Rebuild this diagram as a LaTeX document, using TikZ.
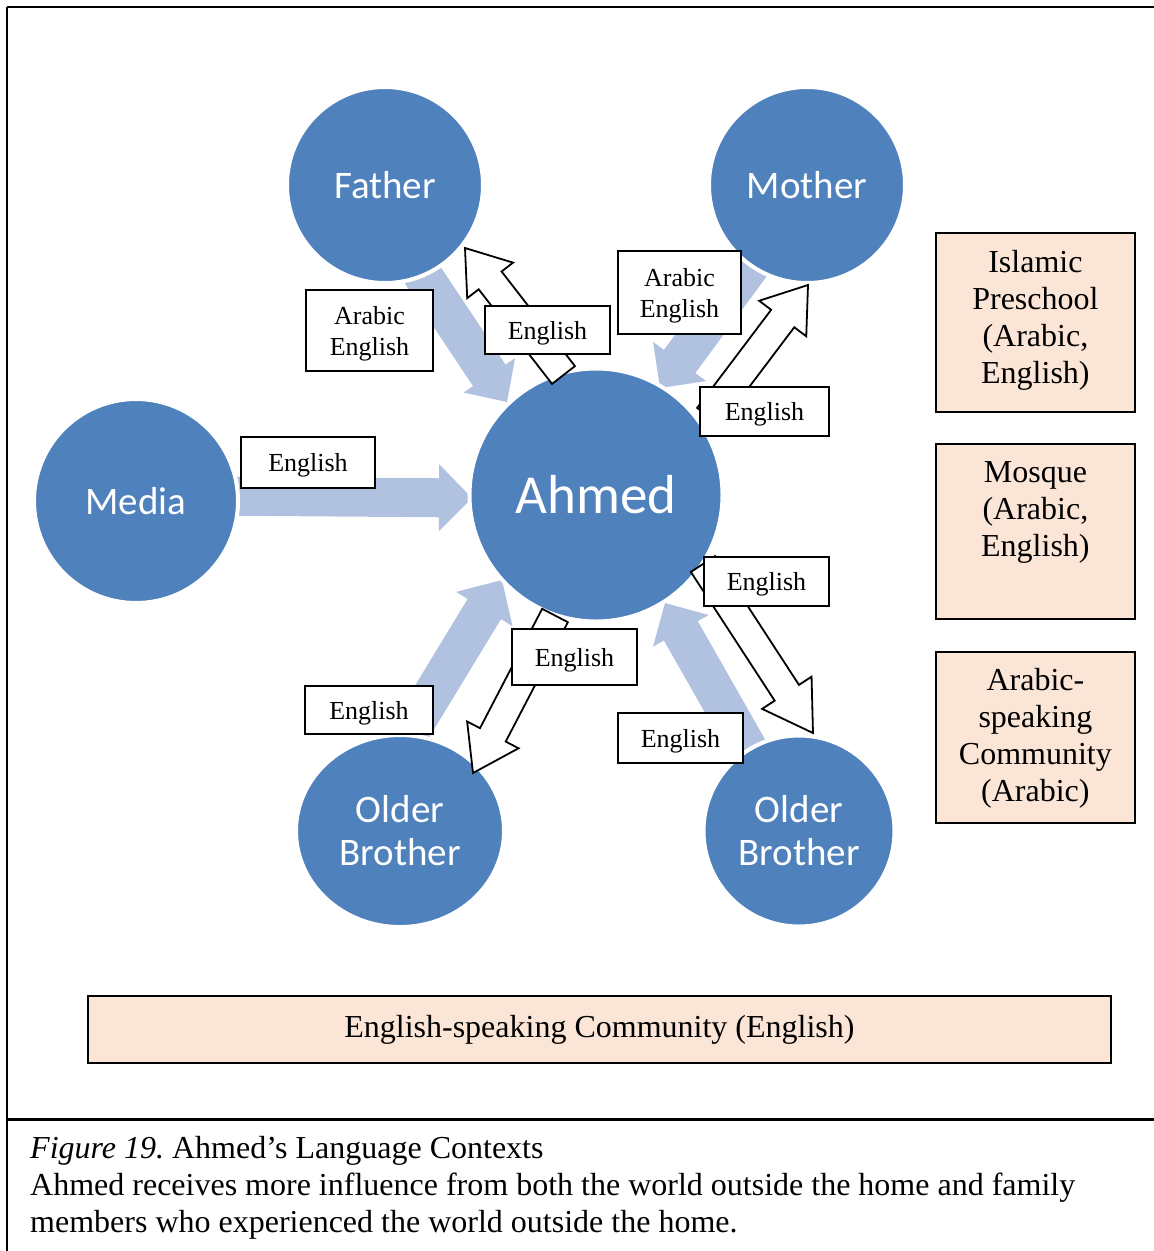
\documentclass[tikz,border=0pt]{standalone}
\usepackage{fontspec}
\setmainfont{Liberation Serif}
\newfontfamily\circlefont{Carlito}
\usetikzlibrary{calc,shapes.geometric}
\definecolor{nodeblue}{HTML}{4F81BD}
\definecolor{flowblue}{HTML}{B0C2DF}
\definecolor{peach}{HTML}{FBE5D6}
\frenchspacing

% block arrow: #1 style, #2 tail, #3 tip, #4 shaft half-width, #5 head half-width, #6 head length
\newcommand\blockarrow[6]{%
  \coordinate (ba-base) at ($(#3)!#6!(#2)$);
  \path[#1] ($(#2)!#4!90:(#3)$) -- ($(ba-base)!#4!90:(#3)$) -- ($(ba-base)!#5!90:(#3)$)
    -- (#3) -- ($(ba-base)!#5!-90:(#3)$) -- ($(ba-base)!#4!-90:(#3)$)
    -- ($(#2)!#4!-90:(#3)$) -- cycle;}

\tikzset{
  person/.style={circle, fill=nodeblue, draw=white, line width=4pt, inner sep=0pt,
    text=white, align=center, font=\circlefont\fontsize{39}{43}\selectfont},
  tag/.style={draw=black, fill=white, line width=1.8pt, inner sep=0pt, align=center,
    text depth=0pt, font=\fontsize{26}{31}\selectfont},
  setting/.style={draw=black, fill=peach, line width=1.8pt, inner sep=0pt},
  settingtext/.style={anchor=north, inner sep=0pt, align=center,
    font=\fontsize{32}{37}\selectfont},
  flow/.style={fill=flowblue},
  speech/.style={draw=black, fill=white, line width=1.8pt, line join=miter},
}

\begin{document}
\begin{tikzpicture}[x=1pt, y=-1pt]
\useasboundingbox[fill=white] (0,0) rectangle (1154,1251);

% frame
\draw[line width=2.5pt] (7,7) -- (1154,7);
\draw[line width=1.6pt] (7,7) -- (7,1251);
\draw[line width=2.5pt] (7,1119.5) -- (1154,1119.5);

% end points of the influence arrows
\coordinate (fromMedia)  at (200,496);  \coordinate (toAhmedW)  at (472,498);
\coordinate (fromFather) at (402,244);  \coordinate (toAhmedNW) at (507,402);
\coordinate (fromMother) at (773,235);  \coordinate (toAhmedNE) at (660,388);
\coordinate (fromOBL)    at (398,751);  \coordinate (toAhmedSW) at (502,580);
\coordinate (fromOBR)    at (764,777);  \coordinate (toAhmedSE) at (665,603);

% influence reaching Ahmed
\blockarrow{flow}{fromMedia}{toAhmedW}{19.5pt}{33.5pt}{33pt}
\blockarrow{flow}{fromFather}{toAhmedNW}{19.5pt}{31pt}{32pt}
\blockarrow{flow}{fromMother}{toAhmedNE}{19.5pt}{33pt}{33pt}
\blockarrow{flow}{fromOBL}{toAhmedSW}{19.5pt}{33pt}{34pt}
\blockarrow{flow}{fromOBR}{toAhmedSE}{19.5pt}{32pt}{32pt}

% people
\node[person, minimum size=196pt] (father) at (385,185) {Father};
\node[person, minimum size=196pt] (mother) at (807,185) {Mother};
\node[person, minimum size=204pt] (media)  at (136,501) {Media};
\node[person, minimum size=253pt, font=\circlefont\fontsize{55}{60}\selectfont] (ahmed) at (596,495) {Ahmed};
\node[person, ellipse, minimum width=208pt, minimum height=192pt] (obl) at (400,831) {Older\\Brother};
\node[person, minimum size=191pt] (obr) at (799,831) {Older\\Brother};

% end points of Ahmed's replies
\coordinate (ahmedToFa) at (563.5,375);   \coordinate (atFather) at (465,248);
\coordinate (ahmedToMo) at (708.7,416.6); \coordinate (atMother) at (808,285);
\coordinate (ahmedToBL) at (555,615.5);   \coordinate (atOBL)    at (473,773);
\coordinate (ahmedToBR) at (703,564);     \coordinate (atOBR)    at (813,733);

\blockarrow{speech}{ahmedToFa}{atFather}{14.5pt}{29pt}{41pt}
\blockarrow{speech}{ahmedToMo}{atMother}{14.5pt}{29.5pt}{42pt}
\blockarrow{speech}{ahmedToBL}{atOBL}{14.5pt}{29pt}{43pt}
\blockarrow{speech}{ahmedToBR}{atOBR}{14.5pt}{29.5pt}{48pt}

% language labels
\node[tag, minimum width=127pt, minimum height=81pt] (faLang)  at (369.5,330.5) {Arabic\\English};
\node[tag, minimum width=125pt, minimum height=48pt] (faReply) at (547.5,330) {English};
\node[tag, minimum width=123pt, minimum height=83pt] (moLang)  at (679.5,292.5) {Arabic\\English};
\node[tag, minimum width=129pt, minimum height=49pt] (moReply) at (764.5,411.5) {English};
\node[tag, minimum width=134pt, minimum height=51pt] (meLang)  at (308,462.5) {English};
\node[tag, minimum width=125pt, minimum height=49pt] (brReply) at (766.5,581.5) {English};
\node[tag, minimum width=125pt, minimum height=56pt] (blReply) at (574.5,657) {English};
\node[tag, minimum width=128pt, minimum height=48pt] (blLang)  at (369,710) {English};
\node[tag, minimum width=125pt, minimum height=50pt] (brLang)  at (680.5,738) {English};

% settings
\node[setting, anchor=north west, minimum width=199pt, minimum height=179pt] (preschool) at (935,232) {};
\node[settingtext] (preschoolText) at ([yshift=-18pt]preschool.north) {Islamic\\Preschool\\(Arabic,\\English)};
\node[setting, anchor=north west, minimum width=199pt, minimum height=175pt] (mosque) at (935,443) {};
\node[settingtext] (mosqueText) at ([yshift=-18pt]mosque.north) {Mosque\\(Arabic,\\English)};
\node[setting, anchor=north west, minimum width=199pt, minimum height=171pt] (arComm) at (935,651) {};
\node[settingtext] (arCommText) at ([yshift=-17pt]arComm.north) {Arabic-\\speaking\\Community\\(Arabic)};
\node[setting, anchor=north west, minimum width=1023pt, minimum height=67pt,
  font=\fontsize{32}{37}\selectfont] (enComm) at (87,995) {English-speaking Community (English)};

% caption
\node[anchor=north west, inner sep=0pt, align=left, font=\fontsize{32}{37}\selectfont] (caption) at (30,1136)
  {\textit{Figure 19.} Ahmed’s Language Contexts\\
   Ahmed receives more influence from both the world outside the home and family\\
   members who experienced the world outside the home.};
\end{tikzpicture}
\end{document}
